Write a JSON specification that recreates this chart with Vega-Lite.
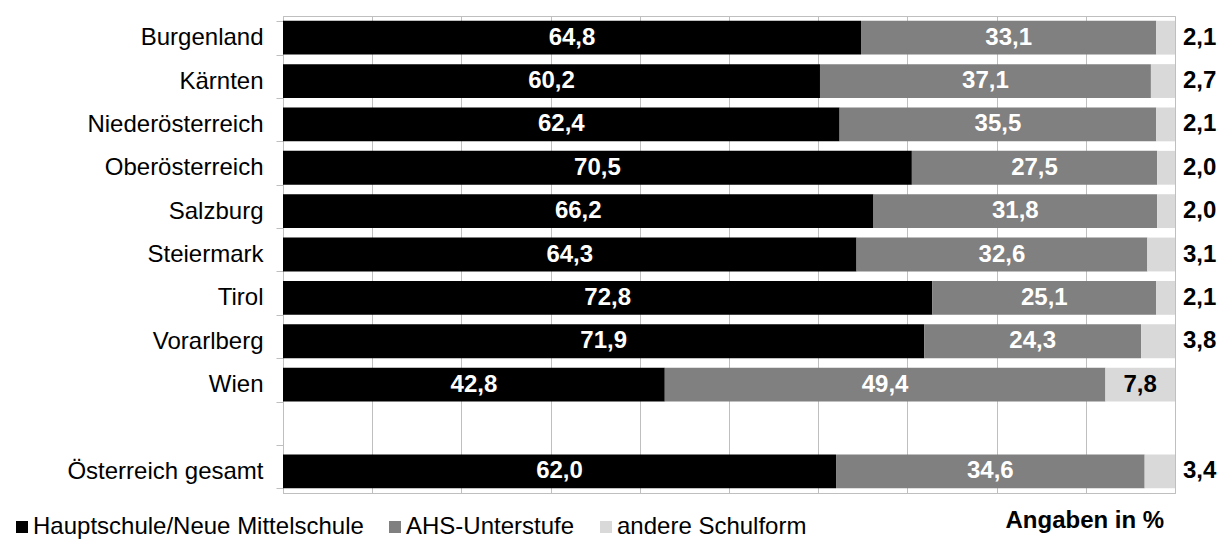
{
  "$schema": "https://vega.github.io/schema/vega-lite/v6.json",
  "autosize": {"type": "none"},
  "padding": {"left": 283, "top": 16, "right": 43, "bottom": 46},
  "width": 892,
  "height": 477,
  "background": "white",
  "config": {
    "font": "Liberation Sans",
    "view": {"stroke": "#bfbfbf", "strokeWidth": 1},
    "locale": {"number": {"decimal": ",", "thousands": ".", "grouping": [3], "currency": ["", " €"]}}
  },
  "data": {"values": [
    {"region": "Burgenland", "typ": "Hauptschule/Neue Mittelschule", "k": 1, "value": 64.8},
    {"region": "Burgenland", "typ": "AHS-Unterstufe", "k": 2, "value": 33.1},
    {"region": "Burgenland", "typ": "andere Schulform", "k": 3, "value": 2.1},
    {"region": "Kärnten", "typ": "Hauptschule/Neue Mittelschule", "k": 1, "value": 60.2},
    {"region": "Kärnten", "typ": "AHS-Unterstufe", "k": 2, "value": 37.1},
    {"region": "Kärnten", "typ": "andere Schulform", "k": 3, "value": 2.7},
    {"region": "Niederösterreich", "typ": "Hauptschule/Neue Mittelschule", "k": 1, "value": 62.4},
    {"region": "Niederösterreich", "typ": "AHS-Unterstufe", "k": 2, "value": 35.5},
    {"region": "Niederösterreich", "typ": "andere Schulform", "k": 3, "value": 2.1},
    {"region": "Oberösterreich", "typ": "Hauptschule/Neue Mittelschule", "k": 1, "value": 70.5},
    {"region": "Oberösterreich", "typ": "AHS-Unterstufe", "k": 2, "value": 27.5},
    {"region": "Oberösterreich", "typ": "andere Schulform", "k": 3, "value": 2.0},
    {"region": "Salzburg", "typ": "Hauptschule/Neue Mittelschule", "k": 1, "value": 66.2},
    {"region": "Salzburg", "typ": "AHS-Unterstufe", "k": 2, "value": 31.8},
    {"region": "Salzburg", "typ": "andere Schulform", "k": 3, "value": 2.0},
    {"region": "Steiermark", "typ": "Hauptschule/Neue Mittelschule", "k": 1, "value": 64.3},
    {"region": "Steiermark", "typ": "AHS-Unterstufe", "k": 2, "value": 32.6},
    {"region": "Steiermark", "typ": "andere Schulform", "k": 3, "value": 3.1},
    {"region": "Tirol", "typ": "Hauptschule/Neue Mittelschule", "k": 1, "value": 72.8},
    {"region": "Tirol", "typ": "AHS-Unterstufe", "k": 2, "value": 25.1},
    {"region": "Tirol", "typ": "andere Schulform", "k": 3, "value": 2.1},
    {"region": "Vorarlberg", "typ": "Hauptschule/Neue Mittelschule", "k": 1, "value": 71.9},
    {"region": "Vorarlberg", "typ": "AHS-Unterstufe", "k": 2, "value": 24.3},
    {"region": "Vorarlberg", "typ": "andere Schulform", "k": 3, "value": 3.8},
    {"region": "Wien", "typ": "Hauptschule/Neue Mittelschule", "k": 1, "value": 42.8},
    {"region": "Wien", "typ": "AHS-Unterstufe", "k": 2, "value": 49.4},
    {"region": "Wien", "typ": "andere Schulform", "k": 3, "value": 7.8},
    {"region": "Österreich gesamt", "typ": "Hauptschule/Neue Mittelschule", "k": 1, "value": 62.0},
    {"region": "Österreich gesamt", "typ": "AHS-Unterstufe", "k": 2, "value": 34.6},
    {"region": "Österreich gesamt", "typ": "andere Schulform", "k": 3, "value": 3.4}
  ]},
  "encoding": {
    "y": {
      "field": "region", "type": "nominal",
      "scale": {
        "domain": ["Burgenland", "Kärnten", "Niederösterreich", "Oberösterreich", "Salzburg", "Steiermark", "Tirol", "Vorarlberg", "Wien", " ", "Österreich gesamt"],
        "paddingInner": 0.22, "paddingOuter": 0.11
      },
      "axis": {
        "title": null, "grid": false, "tickBand": "extent", "tickSize": 7, "tickColor": "#bfbfbf",
        "domainColor": "#bfbfbf", "labelFontSize": 24, "labelColor": "#000000", "labelPadding": 13,
        "labelFont": "Liberation Sans", "labelLimit": 400
      }
    },
    "order": {"field": "k", "type": "quantitative"}
  },
  "layer": [
    {
      "mark": {"type": "bar"},
      "encoding": {
        "x": {
          "field": "value", "type": "quantitative", "stack": "zero",
          "scale": {"domain": [0, 100], "nice": false, "zero": true},
          "axis": {
            "title": "Angaben in %", "labels": false, "ticks": false, "grid": true, "gridColor": "#bfbfbf",
            "values": [0, 10, 20, 30, 40, 50, 60, 70, 80, 90, 100],
            "domainColor": "#bfbfbf", "titleFontSize": 24, "titleFontWeight": "bold", "titleColor": "#000000",
            "titleAnchor": null, "titleAlign": "left", "titleBaseline": "alphabetic", "titleX": 722, "titleY": 34,
            "titleFont": "Liberation Sans"
          }
        },
        "color": {
          "field": "typ", "type": "nominal",
          "scale": {"domain": ["Hauptschule/Neue Mittelschule", "AHS-Unterstufe", "andere Schulform"], "range": ["#000000", "#808080", "#d9d9d9"]},
          "legend": {
            "title": null, "orient": "none", "direction": "horizontal", "legendX": -273, "legendY": 499,
            "padding": 0, "symbolType": "square", "symbolSize": 144, "symbolStrokeWidth": 0,
            "labelFontSize": 24, "labelColor": "#000000", "labelOffset": -1, "columnPadding": 19,
            "labelFont": "Liberation Sans", "labelLimit": 500
          }
        }
      }
    },
    {
      "mark": {"type": "text", "fontWeight": "bold", "fontSize": 24, "align": "center", "baseline": "middle", "font": "Liberation Sans"},
      "encoding": {
        "x": {"field": "value", "type": "quantitative", "stack": "zero", "bandPosition": 0.5},
        "color": {"condition": {"test": "datum.k < 3", "value": "white"}, "value": "black"},
        "text": {"condition": {"test": "datum.k == 3 && datum.region != 'Wien'", "value": ""}, "field": "value", "type": "quantitative", "format": ".1f"}
      }
    },
    {
      "mark": {"type": "text", "color": "black", "fontWeight": "bold", "fontSize": 24, "align": "left", "baseline": "middle", "dx": 8, "font": "Liberation Sans"},
      "encoding": {
        "x": {"field": "value", "type": "quantitative", "stack": "zero"},
        "text": {"condition": {"test": "datum.k == 3 && datum.region != 'Wien'", "field": "value", "type": "quantitative", "format": ".1f"}, "value": ""}
      }
    }
  ]
}
